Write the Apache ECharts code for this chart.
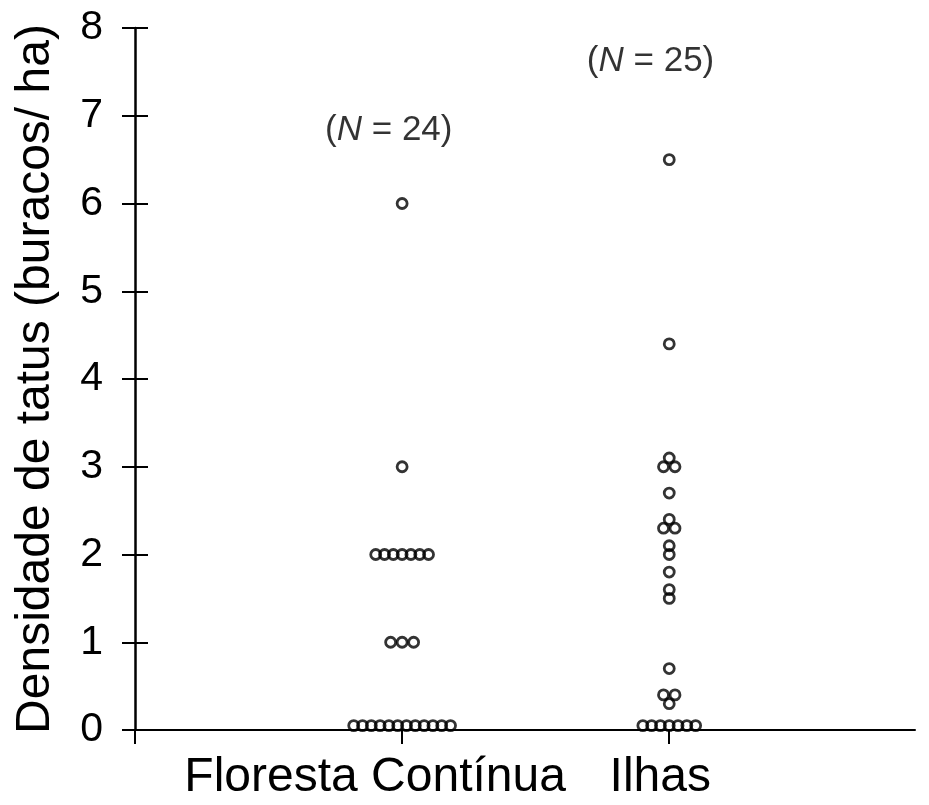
<!DOCTYPE html>
<html>
<head>
<meta charset="utf-8">
<script src="https://cdn.jsdelivr.net/npm/echarts@6/dist/echarts.min.js"></script>
<style>
  html, body { margin: 0; padding: 0; background: #fff; }
  #chart { width: 929px; height: 805px; }
</style>
</head>
<body>
<div id="chart"></div>
<script>
// categories and group positions on the x value axis
const categories = ['Floresta Contínua', 'Ilhas']
const groupPos = [1, 2]
// densities (burrows / ha); zeros sit just above the axis
const florestaValues = [6, 3, 2, 2, 2, 2, 2, 2, 2, 1, 1, 1,
  0.05, 0.05, 0.05, 0.05, 0.05, 0.05, 0.05, 0.05, 0.05, 0.05, 0.05, 0.05]
const ilhasValues = [6.5, 4.4, 3.1, 3.0, 3.0, 2.7, 2.4, 2.3, 2.3, 2.1, 2.0, 1.8, 1.6, 1.5,
  0.7, 0.4, 0.4, 0.3, 0.05, 0.05, 0.05, 0.05, 0.05, 0.05, 0.05]
const sampleSizes = [24, 25]
const noteSpots = [[0.95, 6.83], [1.93, 7.62]]
const yTicks = [0, 1, 2, 3, 4, 5, 6, 7, 8]

const X_MAX = 2.92
const PLOT_W = 780

// dot plot: identical values are spread side by side around the group centre
function spread(values, centre) {
  const counts = {}
  values.forEach(v => { counts[v] = (counts[v] || 0) + 1 })
  const seen = {}
  return values.map(v => {
    const n = counts[v]
    const i = seen[v] = (seen[v] === undefined ? 0 : seen[v] + 1)
    const gapPx = n <= 3 ? 11.5 : 8.8
    const gap = gapPx * X_MAX / PLOT_W
    return [centre + (i - (n - 1) / 2) * gap, v]
  })
}

const chart = echarts.init(document.getElementById('chart'))
const font = 'Liberation Sans, Arial, sans-serif'

const dotStyle = {
  color: 'rgba(0,0,0,0)',
  borderColor: '#000',
  borderWidth: 2.8
}

chart.setOption({
  animation: false,
  backgroundColor: '#fff',
  grid: { left: 135, right: 14, top: 28, bottom: 75, containLabel: false, outerBoundsMode: 'none' },
  xAxis: {
    type: 'value',
    min: 0,
    max: X_MAX,
    interval: 1,
    splitLine: { show: false },
    axisLine: { lineStyle: { color: '#000', width: 2 } },
    axisTick: {
      show: true,
      length: 14,
      customValues: [0, 1, 2],
      lineStyle: { color: '#000', width: 2 }
    },
    axisLabel: {
      customValues: groupPos,
      margin: 24,
      color: '#000',
      fontFamily: font,
      fontSize: 48,
      formatter: v => {
        const idx = groupPos.indexOf(v)
        if (idx === 0) return '{f|' + categories[0] + '}'
        if (idx === 1) return '{i|' + categories[1] + '}'
        return ''
      },
      rich: {
        f: { fontSize: 48, fontFamily: font, color: '#000', padding: [0, 54, 0, 0] },
        i: { fontSize: 48, fontFamily: font, color: '#000', padding: [0, 18, 0, 0] }
      }
    }
  },
  yAxis: [
    {
      type: 'value',
      min: 0,
      max: 8,
      interval: 1,
      name: 'Densidade de tatus (buracos/ ha)',
      nameLocation: 'middle',
      nameGap: 75,
      nameTextStyle: { color: '#000', fontFamily: font, fontSize: 48 },
      splitLine: { show: false },
      axisLine: { show: true, lineStyle: { color: '#000', width: 2.5 } },
      axisTick: { show: true, length: 13, lineStyle: { color: '#000', width: 2 } },
      axisLabel: {
        margin: 32,
        color: '#000',
        fontFamily: font,
        fontSize: 41,
        formatter: v => yTicks.includes(v) ? String(v) : ''
      }
    },
    {
      // inner half of the crossing ticks
      type: 'value',
      min: 0,
      max: 8,
      interval: 1,
      position: 'left',
      splitLine: { show: false },
      axisLine: { show: false },
      axisLabel: { show: false },
      axisTick: { show: true, inside: true, length: 13, lineStyle: { color: '#000', width: 2 } }
    }
  ],
  series: [
    {
      name: categories[0],
      type: 'scatter',
      symbol: 'circle',
      symbolSize: 10,
      itemStyle: dotStyle,
      data: spread(florestaValues, groupPos[0])
    },
    {
      name: categories[1],
      type: 'scatter',
      symbol: 'circle',
      symbolSize: 10,
      itemStyle: dotStyle,
      data: spread(ilhasValues, groupPos[1])
    },
    {
      name: 'N',
      type: 'scatter',
      symbolSize: 0,
      silent: true,
      label: {
        show: true,
        position: 'inside',
        color: '#000',
        formatter: p => '{a|(}{n|N}{a| = ' + sampleSizes[p.dataIndex] + ')}',
        rich: {
          a: { fontSize: 35, fontFamily: font, color: '#000' },
          n: { fontSize: 35, fontFamily: font, color: '#000', fontStyle: 'italic' }
        }
      },
      data: noteSpots
    }
  ]
})
</script>
</body>
</html>
